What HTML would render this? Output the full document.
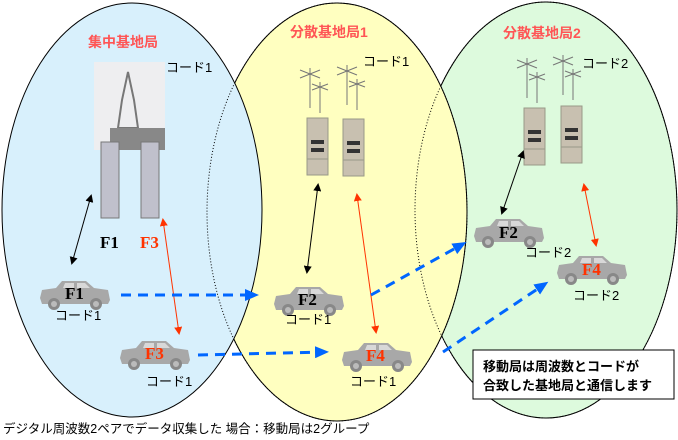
<!DOCTYPE html>
<html><head><meta charset="utf-8"><style>
body{margin:0;background:#fff;}
svg{display:block;font-family:"Liberation Sans","Noto Sans CJK JP",sans-serif;}
.t{font-size:14px;font-weight:bold;fill:#ff5555;}
.c{font-size:13px;fill:#000;}
.f{font-family:"Liberation Serif",serif;font-size:17px;font-weight:bold;}
</style></head><body>
<svg width="678" height="440" viewBox="0 0 678 440">
<defs>
<marker id="ab" markerWidth="8" markerHeight="8" refX="6" refY="4" orient="auto-start-reverse" markerUnits="userSpaceOnUse"><path d="M0,0 L8,4 L0,8z" fill="#000"/></marker>
<marker id="ar" markerWidth="8" markerHeight="8" refX="6" refY="4" orient="auto-start-reverse" markerUnits="userSpaceOnUse"><path d="M0,0 L8,4 L0,8z" fill="#ff3300"/></marker>
<marker id="abl" markerWidth="14" markerHeight="12" refX="10" refY="6" orient="auto" markerUnits="userSpaceOnUse"><path d="M0,0 L14,6 L0,12z" fill="#0066ff"/></marker>
<g id="car"><path d="M2,20 L4,12 L18,10 L24,3 L48,3 L56,10 L70,12 L72,22 L70,26 L4,26z" fill="#a8a8a8"/><path d="M27,5 L36,5 L36,10 L25,10z M39,5 L47,5 L52,10 L39,10z" fill="#d8d8d8"/><circle cx="16" cy="26" r="6" fill="#888"/><circle cx="16" cy="26" r="3" fill="#bbb"/><circle cx="58" cy="26" r="6" fill="#888"/><circle cx="58" cy="26" r="3" fill="#bbb"/></g>
<g id="cab"><rect x="0" y="0" width="21" height="57" fill="#c8c0b0" stroke="#998" stroke-width="1"/><rect x="4" y="22" width="13" height="4" fill="#333"/><rect x="4" y="30" width="13" height="4" fill="#333"/><line x1="0" y1="41" x2="21" y2="41" stroke="#998"/></g>
<g id="ant" stroke="#777" stroke-width="1" fill="none"><line x1="0" y1="0" x2="0" y2="40"/><line x1="-10" y1="2" x2="10" y2="10"/><line x1="-10" y1="10" x2="10" y2="2"/><line x1="10" y1="14" x2="10" y2="45"/><line x1="2" y1="16" x2="18" y2="22"/><line x1="2" y1="22" x2="18" y2="16"/></g>
</defs>
<ellipse cx="546" cy="210" rx="131" ry="208" fill="#ddfadd" stroke="#000"/>
<ellipse cx="337" cy="212" rx="130" ry="209" fill="#ffffc0" stroke="#000"/>
<ellipse cx="132" cy="210" rx="130" ry="207" fill="#d8f0fc" stroke="#000"/>
<ellipse cx="337" cy="212" rx="130" ry="209" fill="none" stroke="#000" stroke-dasharray="1,2"/>
<ellipse cx="546" cy="210" rx="131" ry="208" fill="none" stroke="#000" stroke-dasharray="1,2"/>

<text class="t" x="88" y="47">集中基地局</text>
<text class="t" x="290" y="37">分散基地局1</text>
<text class="t" x="503" y="38">分散基地局2</text>

<rect x="94" y="62" width="71" height="88" fill="#eeeef0"/>
<path d="M128,72 L122,100 L118,128 L138,128 L134,100 z" fill="none" stroke="#777" stroke-width="2"/>
<rect x="110" y="128" width="55" height="22" fill="#888"/>
<rect x="101" y="142" width="18" height="76" fill="#c0c0cc" stroke="#777"/>
<rect x="141" y="142" width="18" height="76" fill="#c0c0cc" stroke="#777"/>
<text class="c" x="166" y="72">コード1</text>

<use href="#ant" x="310" y="68"/><use href="#ant" x="347" y="65"/>
<use href="#cab" x="307" y="118"/><use href="#cab" x="343" y="119"/>
<text class="c" x="363" y="66">コード1</text>
<use href="#ant" x="527" y="58"/><use href="#ant" x="563" y="55"/>
<use href="#cab" x="524" y="108"/><use href="#cab" x="561" y="106"/>
<text class="c" x="582" y="68">コード2</text>

<line x1="91" y1="196" x2="72" y2="263" stroke="#000" marker-start="url(#ab)" marker-end="url(#ab)"/>
<line x1="163" y1="220" x2="179" y2="333" stroke="#ff3300" marker-start="url(#ar)" marker-end="url(#ar)"/>
<line x1="318" y1="185" x2="307" y2="272" stroke="#000" marker-start="url(#ab)" marker-end="url(#ab)"/>
<line x1="357" y1="195" x2="376" y2="332" stroke="#ff3300" marker-start="url(#ar)" marker-end="url(#ar)"/>
<line x1="523" y1="152" x2="502" y2="213" stroke="#000" marker-start="url(#ab)" marker-end="url(#ab)"/>
<line x1="584" y1="185" x2="596" y2="245" stroke="#ff3300" marker-start="url(#ar)" marker-end="url(#ar)"/>

<text class="f" x="100" y="248">F1</text>
<text class="f" x="140" y="248" fill="#ff3300">F3</text>

<use href="#car" x="38" y="278"/><text class="f" x="65" y="299">F1</text><text class="c" x="55" y="320">コード1</text>
<use href="#car" x="118" y="338"/><text class="f" x="145" y="359" fill="#ff3300">F3</text><text class="c" x="146" y="386">コード1</text>
<use href="#car" x="272" y="284"/><text class="f" x="298" y="305">F2</text><text class="c" x="285" y="324">コード1</text>
<use href="#car" x="340" y="340"/><text class="f" x="366" y="361" fill="#ff3300">F4</text><text class="c" x="350" y="386">コード1</text>
<use href="#car" x="472" y="216"/><text class="f" x="499" y="238">F2</text><text class="c" x="525" y="257">コード2</text>
<use href="#car" x="555" y="253"/><text class="f" x="582" y="275" fill="#ff3300">F4</text><text class="c" x="573" y="300">コード2</text>

<g stroke="#0066ff" stroke-width="3" stroke-dasharray="10,7" fill="none">
<line x1="121" y1="295" x2="255" y2="295" marker-end="url(#abl)"/>
<line x1="198" y1="355" x2="325" y2="352" marker-end="url(#abl)"/>
<line x1="371" y1="295" x2="463" y2="244" marker-end="url(#abl)"/>
<line x1="443" y1="352" x2="545" y2="284" marker-end="url(#abl)"/>
</g>

<rect x="473" y="350" width="201" height="49" fill="#fff" stroke="#000"/>
<text x="483" y="371" style="font-size:13px;font-weight:bold">移動局は周波数とコードが</text>
<text x="483" y="390" style="font-size:13px;font-weight:bold">合致した基地局と通信します</text>

<text x="3" y="433" style="font-size:12.5px">デジタル周波数2ペアでデータ収集した 場合：移動局は2グループ</text>
</svg>
</body></html>
